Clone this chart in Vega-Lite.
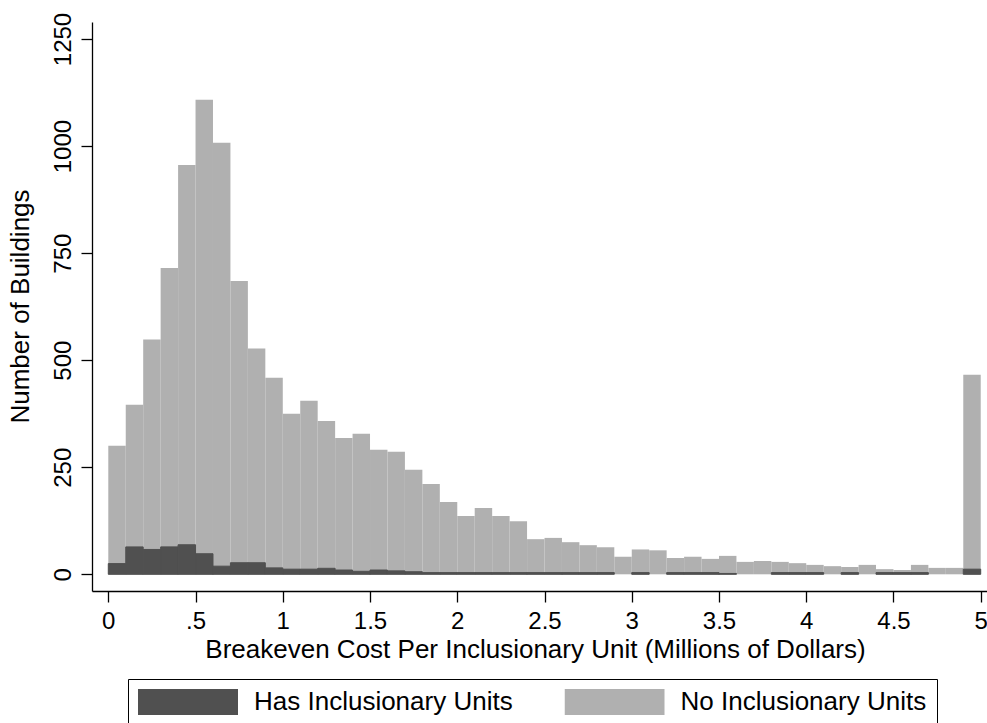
{
  "$schema": "https://vega.github.io/schema/vega-lite/v6.json",
  "width": 895,
  "height": 569,
  "autosize": "none",
  "padding": {"left": 92, "top": 22, "right": 0, "bottom": 132},
  "background": "white",
  "config": {
    "view": {"stroke": null},
    "font": "Liberation Sans",
    "axis": {
      "grid": false,
      "domainColor": "black",
      "domainWidth": 1.3,
      "tickColor": "black",
      "tickWidth": 1.3,
      "tickSize": 11,
      "labelColor": "black",
      "labelFont": "Liberation Sans",
      "labelFontSize": 24,
      "titleColor": "black",
      "titleFont": "Liberation Sans",
      "titleFontSize": 26,
      "titleFontWeight": "normal",
      "labelFlush": false,
      "labelOverlap": false
    }
  },
  "datasets": {
    "no": [
      {"lo": 0.0, "hi": 0.1, "count": 300, "group": "No Inclusionary Units"},
      {"lo": 0.1, "hi": 0.2, "count": 396, "group": "No Inclusionary Units"},
      {"lo": 0.2, "hi": 0.3, "count": 548, "group": "No Inclusionary Units"},
      {"lo": 0.3, "hi": 0.4, "count": 715, "group": "No Inclusionary Units"},
      {"lo": 0.4, "hi": 0.5, "count": 956, "group": "No Inclusionary Units"},
      {"lo": 0.5, "hi": 0.6, "count": 1108, "group": "No Inclusionary Units"},
      {"lo": 0.6, "hi": 0.7, "count": 1008, "group": "No Inclusionary Units"},
      {"lo": 0.7, "hi": 0.8, "count": 685, "group": "No Inclusionary Units"},
      {"lo": 0.8, "hi": 0.9, "count": 527, "group": "No Inclusionary Units"},
      {"lo": 0.9, "hi": 1.0, "count": 459, "group": "No Inclusionary Units"},
      {"lo": 1.0, "hi": 1.1, "count": 375, "group": "No Inclusionary Units"},
      {"lo": 1.1, "hi": 1.2, "count": 405, "group": "No Inclusionary Units"},
      {"lo": 1.2, "hi": 1.3, "count": 358, "group": "No Inclusionary Units"},
      {"lo": 1.3, "hi": 1.4, "count": 318, "group": "No Inclusionary Units"},
      {"lo": 1.4, "hi": 1.5, "count": 328, "group": "No Inclusionary Units"},
      {"lo": 1.5, "hi": 1.6, "count": 291, "group": "No Inclusionary Units"},
      {"lo": 1.6, "hi": 1.7, "count": 286, "group": "No Inclusionary Units"},
      {"lo": 1.7, "hi": 1.8, "count": 244, "group": "No Inclusionary Units"},
      {"lo": 1.8, "hi": 1.9, "count": 211, "group": "No Inclusionary Units"},
      {"lo": 1.9, "hi": 2.0, "count": 169, "group": "No Inclusionary Units"},
      {"lo": 2.0, "hi": 2.1, "count": 136, "group": "No Inclusionary Units"},
      {"lo": 2.1, "hi": 2.2, "count": 155, "group": "No Inclusionary Units"},
      {"lo": 2.2, "hi": 2.3, "count": 136, "group": "No Inclusionary Units"},
      {"lo": 2.3, "hi": 2.4, "count": 124, "group": "No Inclusionary Units"},
      {"lo": 2.4, "hi": 2.5, "count": 82, "group": "No Inclusionary Units"},
      {"lo": 2.5, "hi": 2.6, "count": 85, "group": "No Inclusionary Units"},
      {"lo": 2.6, "hi": 2.7, "count": 75, "group": "No Inclusionary Units"},
      {"lo": 2.7, "hi": 2.8, "count": 68, "group": "No Inclusionary Units"},
      {"lo": 2.8, "hi": 2.9, "count": 63, "group": "No Inclusionary Units"},
      {"lo": 2.9, "hi": 3.0, "count": 41, "group": "No Inclusionary Units"},
      {"lo": 3.0, "hi": 3.1, "count": 58, "group": "No Inclusionary Units"},
      {"lo": 3.1, "hi": 3.2, "count": 56, "group": "No Inclusionary Units"},
      {"lo": 3.2, "hi": 3.3, "count": 38, "group": "No Inclusionary Units"},
      {"lo": 3.3, "hi": 3.4, "count": 41, "group": "No Inclusionary Units"},
      {"lo": 3.4, "hi": 3.5, "count": 36, "group": "No Inclusionary Units"},
      {"lo": 3.5, "hi": 3.6, "count": 43, "group": "No Inclusionary Units"},
      {"lo": 3.6, "hi": 3.7, "count": 29, "group": "No Inclusionary Units"},
      {"lo": 3.7, "hi": 3.8, "count": 31, "group": "No Inclusionary Units"},
      {"lo": 3.8, "hi": 3.9, "count": 29, "group": "No Inclusionary Units"},
      {"lo": 3.9, "hi": 4.0, "count": 26, "group": "No Inclusionary Units"},
      {"lo": 4.0, "hi": 4.1, "count": 22, "group": "No Inclusionary Units"},
      {"lo": 4.1, "hi": 4.2, "count": 19, "group": "No Inclusionary Units"},
      {"lo": 4.2, "hi": 4.3, "count": 17, "group": "No Inclusionary Units"},
      {"lo": 4.3, "hi": 4.4, "count": 22, "group": "No Inclusionary Units"},
      {"lo": 4.4, "hi": 4.5, "count": 12, "group": "No Inclusionary Units"},
      {"lo": 4.5, "hi": 4.6, "count": 10, "group": "No Inclusionary Units"},
      {"lo": 4.6, "hi": 4.7, "count": 22, "group": "No Inclusionary Units"},
      {"lo": 4.7, "hi": 4.8, "count": 15, "group": "No Inclusionary Units"},
      {"lo": 4.8, "hi": 4.9, "count": 15, "group": "No Inclusionary Units"},
      {"lo": 4.9, "hi": 5.0, "count": 466, "group": "No Inclusionary Units"}
    ],
    "has": [
      {"lo": 0.0, "hi": 0.1, "count": 25, "group": "Has Inclusionary Units"},
      {"lo": 0.1, "hi": 0.2, "count": 64, "group": "Has Inclusionary Units"},
      {"lo": 0.2, "hi": 0.3, "count": 58, "group": "Has Inclusionary Units"},
      {"lo": 0.3, "hi": 0.4, "count": 64, "group": "Has Inclusionary Units"},
      {"lo": 0.4, "hi": 0.5, "count": 69, "group": "Has Inclusionary Units"},
      {"lo": 0.5, "hi": 0.6, "count": 48, "group": "Has Inclusionary Units"},
      {"lo": 0.6, "hi": 0.7, "count": 19, "group": "Has Inclusionary Units"},
      {"lo": 0.7, "hi": 0.8, "count": 27, "group": "Has Inclusionary Units"},
      {"lo": 0.8, "hi": 0.9, "count": 27, "group": "Has Inclusionary Units"},
      {"lo": 0.9, "hi": 1.0, "count": 15, "group": "Has Inclusionary Units"},
      {"lo": 1.0, "hi": 1.1, "count": 12, "group": "Has Inclusionary Units"},
      {"lo": 1.1, "hi": 1.2, "count": 12, "group": "Has Inclusionary Units"},
      {"lo": 1.2, "hi": 1.3, "count": 14, "group": "Has Inclusionary Units"},
      {"lo": 1.3, "hi": 1.4, "count": 10, "group": "Has Inclusionary Units"},
      {"lo": 1.4, "hi": 1.5, "count": 7, "group": "Has Inclusionary Units"},
      {"lo": 1.5, "hi": 1.6, "count": 10, "group": "Has Inclusionary Units"},
      {"lo": 1.6, "hi": 1.7, "count": 8, "group": "Has Inclusionary Units"},
      {"lo": 1.7, "hi": 1.8, "count": 6, "group": "Has Inclusionary Units"},
      {"lo": 1.8, "hi": 1.9, "count": 4, "group": "Has Inclusionary Units"},
      {"lo": 1.9, "hi": 2.0, "count": 4, "group": "Has Inclusionary Units"},
      {"lo": 2.0, "hi": 2.1, "count": 4, "group": "Has Inclusionary Units"},
      {"lo": 2.1, "hi": 2.2, "count": 4, "group": "Has Inclusionary Units"},
      {"lo": 2.2, "hi": 2.3, "count": 4, "group": "Has Inclusionary Units"},
      {"lo": 2.3, "hi": 2.4, "count": 4, "group": "Has Inclusionary Units"},
      {"lo": 2.4, "hi": 2.5, "count": 4, "group": "Has Inclusionary Units"},
      {"lo": 2.5, "hi": 2.6, "count": 4, "group": "Has Inclusionary Units"},
      {"lo": 2.6, "hi": 2.7, "count": 4, "group": "Has Inclusionary Units"},
      {"lo": 2.7, "hi": 2.8, "count": 4, "group": "Has Inclusionary Units"},
      {"lo": 2.8, "hi": 2.9, "count": 4, "group": "Has Inclusionary Units"},
      {"lo": 3.0, "hi": 3.1, "count": 4, "group": "Has Inclusionary Units"},
      {"lo": 3.2, "hi": 3.3, "count": 4, "group": "Has Inclusionary Units"},
      {"lo": 3.3, "hi": 3.4, "count": 4, "group": "Has Inclusionary Units"},
      {"lo": 3.4, "hi": 3.5, "count": 4, "group": "Has Inclusionary Units"},
      {"lo": 3.5, "hi": 3.6, "count": 2, "group": "Has Inclusionary Units"},
      {"lo": 3.8, "hi": 3.9, "count": 4, "group": "Has Inclusionary Units"},
      {"lo": 3.9, "hi": 4.0, "count": 4, "group": "Has Inclusionary Units"},
      {"lo": 4.0, "hi": 4.1, "count": 4, "group": "Has Inclusionary Units"},
      {"lo": 4.2, "hi": 4.3, "count": 4, "group": "Has Inclusionary Units"},
      {"lo": 4.4, "hi": 4.5, "count": 4, "group": "Has Inclusionary Units"},
      {"lo": 4.5, "hi": 4.6, "count": 4, "group": "Has Inclusionary Units"},
      {"lo": 4.6, "hi": 4.7, "count": 4, "group": "Has Inclusionary Units"},
      {"lo": 4.9, "hi": 5.0, "count": 12, "group": "Has Inclusionary Units"}
    ]
  },
  "encoding": {
    "x": {
      "field": "lo",
      "type": "quantitative",
      "scale": {"domain": [-0.0934, 5.036], "nice": false, "zero": false},
      "axis": {
        "title": "Breakeven Cost Per Inclusionary Unit (Millions of Dollars)",
        "values": [0, 0.5, 1, 1.5, 2, 2.5, 3, 3.5, 4, 4.5, 5],
        "labelExpr": "datum.value == 0.5 ? '.5' : format(datum.value, '~g')",
        "labelBaseline": "alphabetic",
        "labelPadding": 26,
        "titleX": 443,
        "titleY": 66,
        "titleAlign": "center",
        "titleBaseline": "alphabetic"
      }
    },
    "x2": {"field": "hi"},
    "y": {
      "field": "count",
      "type": "quantitative",
      "scale": {"domain": [-39, 1289.7], "nice": false, "zero": false},
      "axis": {
        "title": "Number of Buildings",
        "values": [0, 250, 500, 750, 1000, 1250],
        "format": "d",
        "labelAngle": -90,
        "labelAlign": "center",
        "labelBaseline": "alphabetic",
        "labelPadding": 11,
        "titleAngle": -90,
        "titleX": -63.5,
        "titleY": 284,
        "titleAlign": "center",
        "titleBaseline": "alphabetic"
      }
    },
    "y2": {"datum": 0},
    "color": {
      "field": "group",
      "type": "nominal",
      "scale": {
        "domain": ["Has Inclusionary Units", "No Inclusionary Units"],
        "range": ["#505050", "#b0b0b0"]
      },
      "legend": {
        "orient": "none",
        "legendX": 36,
        "legendY": 657,
        "direction": "horizontal",
        "columns": 2,
        "title": null,
        "symbolType": "M-1,-0.26H1V0.26H-1Z",
        "symbolSize": 10000,
        "symbolStrokeWidth": 0,
        "symbolOpacity": 1,
        "clipHeight": 26,
        "labelFont": "Liberation Sans",
        "labelFontSize": 26,
        "labelColor": "black",
        "labelOffset": 16,
        "labelLimit": 0,
        "columnPadding": 51.5,
        "gridAlign": "all",
        "padding": 10,
        "strokeColor": "black"
      }
    }
  },
  "layer": [
    {
      "data": {"name": "no"},
      "mark": {"type": "bar"}
    },
    {
      "data": {"name": "has"},
      "mark": {"type": "bar", "stroke": "#505050", "strokeWidth": 1}
    }
  ]
}
